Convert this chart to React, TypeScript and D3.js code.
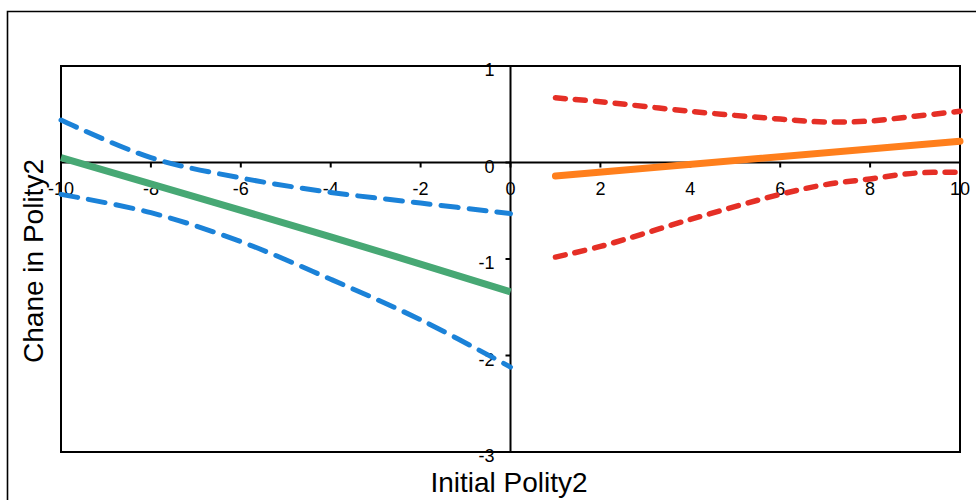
import * as d3 from "d3";

// left half: initial polity2 below zero
const xLeft = [-10, -8, -6, -4, -2, 0];
const blueUpper = [0.44, 0.05, -0.16, -0.31, -0.42, -0.53];
const blueLower = [-0.33, -0.52, -0.82, -1.21, -1.63, -2.12];
const greenX = [-10, -4, 0];
const greenFit = [0.05, -0.77, -1.34];

// right half: initial polity2 above zero
const xRight = [1, 2, 4, 6, 7, 8, 9, 10];
const redUpper = [0.67, 0.63, 0.53, 0.45, 0.42, 0.43, 0.48, 0.53];
const redLower = [-0.98, -0.87, -0.59, -0.33, -0.23, -0.17, -0.11, -0.1];
const orangeX = [1, 10];
const orangeFit = [-0.14, 0.22];

const xTicks = [-10, -8, -6, -4, -2, 0, 2, 4, 6, 8, 10];
const yTicks = [1, 0, -1, -2, -3];

const W = 976;
const H = 500;
const font = "'Liberation Sans', Arial, sans-serif";

export default function App() {
  const x = d3.scaleLinear().domain([-10, 10]).range([61, 960]);
  const y = d3.scaleLinear().domain([-3, 1]).range([452, 66]);

  const line = d3
    .line<[number, number]>()
    .x((d) => x(d[0]))
    .y((d) => y(d[1]))
    .curve(d3.curveCatmullRom);

  const pts = (xs: number[], ys: number[]) => xs.map((v, i) => [v, ys[i]] as [number, number]);

  return (
    <svg width={W} height={H} style={{ position: "absolute", left: 0, top: 0 }}>
      <rect x={0} y={0} width={W} height={H} fill="#fff" />
      {/* outer frame */}
      <path d={`M7.5,${H + 5}V11.5H${W + 5}`} fill="none" stroke="#000" strokeWidth={1.6} />

      {/* plot box */}
      <rect x={x(-10)} y={y(1)} width={x(10) - x(-10)} height={y(-3) - y(1)} fill="none" stroke="#000" strokeWidth={2} />

      {/* axes through zero */}
      <line x1={x(-10)} x2={x(10)} y1={y(0)} y2={y(0)} stroke="#000" strokeWidth={2} />
      <line x1={x(0)} x2={x(0)} y1={y(1)} y2={y(-3)} stroke="#000" strokeWidth={2} />

      {xTicks.map((t) => (
        <g key={"x" + t}>
          <line x1={x(t)} x2={x(t)} y1={y(0)} y2={y(0) + 5} stroke="#000" strokeWidth={2} />
          <text x={x(t)} y={y(0) + 32} textAnchor="middle" fontFamily={font} fontSize={18} fill="#000">
            {t}
          </text>
        </g>
      ))}
      {yTicks.map((t) => (
        <g key={"y" + t}>
          <line x1={x(0) - 5} x2={x(0)} y1={y(t)} y2={y(t)} stroke="#000" strokeWidth={2} />
          <text x={x(0) - 16} y={y(t) + 10} textAnchor="end" fontFamily={font} fontSize={18} fill="#000">
            {t}
          </text>
        </g>
      ))}

      {/* confidence bands */}
      <path d={line(pts(xLeft, blueUpper)) ?? ""} fill="none" stroke="#1b82d8" strokeWidth={5} strokeDasharray="17 11" strokeLinecap="round" />
      <path d={line(pts(xLeft, blueLower)) ?? ""} fill="none" stroke="#1b82d8" strokeWidth={5} strokeDasharray="17 11" strokeLinecap="round" />
      <path d={line(pts(xRight, redUpper)) ?? ""} fill="none" stroke="#e52f26" strokeWidth={5.5} strokeDasharray="10 10" strokeLinecap="round" />
      <path d={line(pts(xRight, redLower)) ?? ""} fill="none" stroke="#e52f26" strokeWidth={5.5} strokeDasharray="10 10" strokeLinecap="round" />

      {/* fitted lines */}
      <path d={line(pts(greenX, greenFit)) ?? ""} fill="none" stroke="#47a874" strokeWidth={7} />
      <path d={line(pts(orangeX, orangeFit)) ?? ""} fill="none" stroke="#ff7f1c" strokeWidth={7} strokeLinecap="round" />

      {/* axis titles */}
      <text x={509} y={492} textAnchor="middle" fontFamily={font} fontSize={28} fill="#000">
        Initial Polity2
      </text>
      <text
        transform={`translate(43,261) rotate(-90)`}
        textAnchor="middle"
        fontFamily={font}
        fontSize={28}
        fill="#000"
      >
        Chane in Polity2
      </text>
    </svg>
  );
}
